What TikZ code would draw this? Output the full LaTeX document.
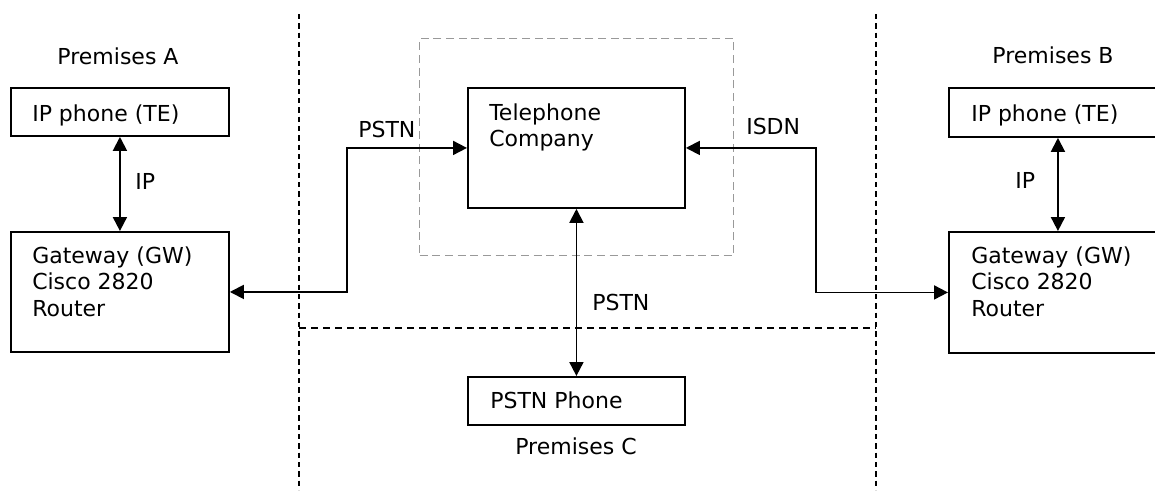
\documentclass[tikz,border=0pt]{standalone}
\usepackage{fontspec}
\setmainfont{DejaVu Sans}
\usetikzlibrary{arrows.meta}
\begin{document}
\begin{tikzpicture}[x=0.75pt,y=-0.75pt,
  box/.style={draw, line width=1.4pt, inner sep=0pt, anchor=north west},
  lbl/.style={anchor=base west, inner sep=0pt, font=\fontsize{16.5}{19.5}\selectfont},
  ctr/.style={anchor=base, inner sep=0pt, font=\fontsize{16.5}{19.5}\selectfont},
  conn/.style={line width=1.4pt, {Triangle[length=10.5pt,width=10.5pt]}-{Triangle[length=10.5pt,width=10.5pt]}},
  sep/.style={line width=1.2pt, dash pattern=on 4pt off 3pt},
  hsep/.style={line width=1.2pt, dash pattern=on 5.5pt off 3.5pt},
  grp/.style={draw=black!40, line width=1pt, dash pattern=on 6pt off 3.5pt, inner sep=0pt, anchor=north west}
]
\useasboundingbox (0,0) rectangle (1155,490);
\clip (0,0) rectangle (1155,490);

% region separators
\coordinate (s1t) at (299,14);
\coordinate (s1b) at (299,490);
\coordinate (s2t) at (876,14);
\coordinate (s2b) at (876,490);
\coordinate (hl) at (299,328);
\coordinate (hr) at (876,328);
\draw[sep] (s1t) -- (s1b);
\draw[sep] (s2t) -- (s2b);
\draw[hsep] (hl) -- (hr);

% telephone company group
\node[grp, minimum width=314*0.75pt, minimum height=217*0.75pt] (tcg) at (419,38) {};

% boxes
\node[box, minimum width=218*0.75pt, minimum height=48*0.75pt] (ipa) at (10,87) {};
\node[box, minimum width=218*0.75pt, minimum height=120*0.75pt] (gwa) at (10,231) {};
\node[box, minimum width=217*0.75pt, minimum height=120*0.75pt] (tc) at (467,87) {};
\node[box, minimum width=217*0.75pt, minimum height=48*0.75pt] (pstn) at (467,376) {};
\node[box, minimum width=218*0.75pt, minimum height=49*0.75pt] (ipb) at (948,87) {};
\node[box, minimum width=218*0.75pt, minimum height=121*0.75pt] (gwb) at (948,231) {};

% texts
\node[ctr] (pa) at (118,64) {Premises A};
\node[ctr] (pb) at (1053,63) {Premises B};
\node[ctr] (pc) at (576,454) {Premises C};
\node[lbl] (ipat) at (32,121) {IP phone (TE)};
\node[lbl] (ipbt) at (971,121) {IP phone (TE)};
\node[lbl] (gwa1) at (32,263) {Gateway (GW)};
\node[lbl] (gwa2) at (32,289) {Cisco 2820};
\node[lbl] (gwa3) at (32,316) {Router};
\node[lbl] (gwb1) at (971,263) {Gateway (GW)};
\node[lbl] (gwb2) at (971,289) {Cisco 2820};
\node[lbl] (gwb3) at (971,316) {Router};
\node[lbl] (tc1) at (489,120) {Telephone};
\node[lbl] (tc2) at (489,146) {Company};
\node[lbl] (pstnt) at (490,408) {PSTN Phone};

% connector labels
\node[lbl] (ipal) at (135,189) {IP};
\node[lbl] (ipbl) at (1015,188) {IP};
\node[lbl] (pstnl1) at (358,137) {PSTN};
\node[lbl] (isdnl) at (746,134) {ISDN};
\node[lbl] (pstnl2) at (592,310) {PSTN};

% connectors
\coordinate (bendA) at (347,0);
\coordinate (bendB) at (816,0);
\draw[conn] (ipa.south) -- (gwa.north);
\draw[conn] (ipb.south) -- (gwb.north);
\draw[conn] (gwa.east) -- (gwa.east -| bendA) |- (tc.west);
\draw[conn] (tc.east) -- (tc.east -| bendB) |- (gwb.west);
\draw[conn] (tc.south) -- (pstn.north);
\end{tikzpicture}
\end{document}
